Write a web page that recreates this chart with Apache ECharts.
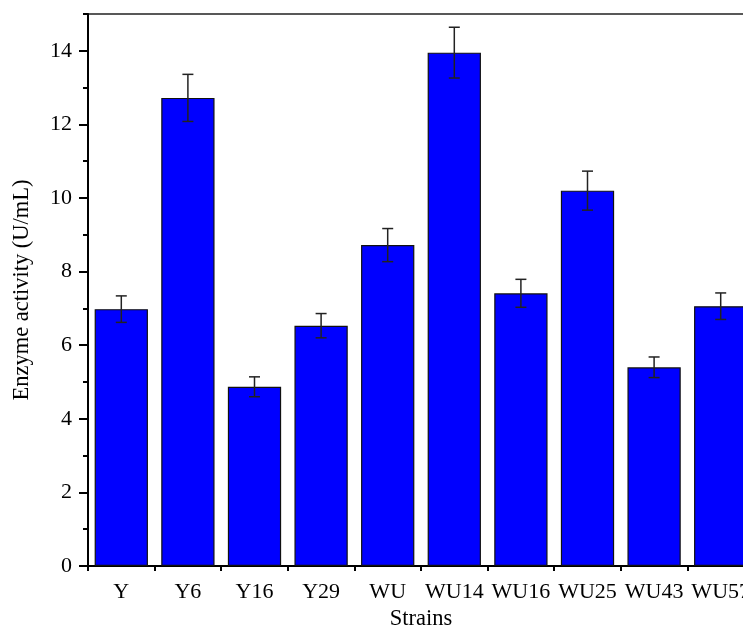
<!DOCTYPE html>
<html>
<head>
<meta charset="utf-8">
<script src="https://cdn.jsdelivr.net/npm/echarts@6/dist/echarts.min.js"></script>
<style>html,body{margin:0;padding:0;background:#fff}#c{width:743px;height:627px}</style>
</head>
<body>
<div id="c"></div>
<script>
var categories = ['Y','Y6','Y16','Y29','WU','WU14','WU16','WU25','WU43','WU57'];
var activity = [6.98, 12.72, 4.87, 6.53, 8.72, 13.95, 7.41, 10.2, 5.40, 7.06];
var errors = [0.36, 0.64, 0.27, 0.33, 0.45, 0.69, 0.38, 0.53, 0.28, 0.36];
var yTicks = [0, 2, 4, 6, 8, 10, 12, 14];

var FONT = 'Liberation Serif';
var chart = echarts.init(document.getElementById('c'), null, {renderer: 'canvas'});

var errData = categories.map(function (c, i) { return [i, activity[i] - errors[i], activity[i] + errors[i]]; });

chart.setOption({
  animation: false,
  backgroundColor: '#fff',
  grid: {left: 88, right: -11, top: 14, bottom: 61, containLabel: false, outerBoundsMode: 'none',
         show: true, borderColor: '#222', borderWidth: 1.5, backgroundColor: 'transparent'},
  xAxis: [{
    type: 'category', data: categories, position: 'bottom',
    axisLine: {lineStyle: {color: '#000', width: 2}},
    axisTick: {alignWithLabel: true, length: 9, lineStyle: {color: '#000', width: 2}},
    axisLabel: {interval: 0, fontFamily: FONT, fontSize: 22, color: '#000', margin: 15, hideOverlap: false},
    name: 'Strains', nameLocation: 'middle', nameGap: 53,
    nameTextStyle: {fontFamily: FONT, fontSize: 22.5, color: '#000', verticalAlign: 'middle'}
  }, {
    type: 'category', data: categories, position: 'bottom',
    axisLine: {show: false},
    axisTick: {show: true, interval: 0, length: 5, lineStyle: {color: '#000', width: 2}},
    axisLabel: {show: false}
  }],
  yAxis: [{
    type: 'value', min: 0, max: 15, interval: 2, position: 'left',
    axisLine: {show: true, lineStyle: {color: '#000', width: 2}},
    axisTick: {show: true, length: 9, lineStyle: {color: '#000', width: 2}, customValues: yTicks},
    axisLabel: {fontFamily: FONT, fontSize: 22, color: '#000', margin: 16, customValues: yTicks},
    splitLine: {show: false},
    name: 'Enzyme activity (U/mL)', nameLocation: 'middle', nameGap: 66, nameRotate: 90,
    nameTextStyle: {fontFamily: FONT, fontSize: 22.5, color: '#000', verticalAlign: 'middle'}
  }, {
    type: 'value', min: 0, max: 15, interval: 1, position: 'left',
    axisLine: {show: false},
    axisTick: {show: true, length: 5, lineStyle: {color: '#000', width: 2}},
    axisLabel: {show: false},
    splitLine: {show: false}
  }],
  series: [{
    type: 'bar', data: activity, barWidth: '80%', xAxisIndex: 0, yAxisIndex: 0,
    itemStyle: {color: '#0000ff', borderColor: '#111', borderWidth: 1.2}
  }, {
    type: 'custom', xAxisIndex: 0, yAxisIndex: 0, data: errData, z: 10,
    renderItem: function (params, api) {
      var x = api.value(0);
      var lo = api.coord([x, api.value(1)]);
      var hi = api.coord([x, api.value(2)]);
      var hw = 5.5;
      var st = {stroke: '#222', lineWidth: 1.5};
      return {type: 'group', children: [
        {type: 'line', shape: {x1: hi[0], y1: hi[1], x2: lo[0], y2: lo[1]}, style: st},
        {type: 'line', shape: {x1: hi[0] - hw, y1: hi[1], x2: hi[0] + hw, y2: hi[1]}, style: st},
        {type: 'line', shape: {x1: lo[0] - hw, y1: lo[1], x2: lo[0] + hw, y2: lo[1]}, style: st}
      ]};
    }
  }]
});
</script>
</body>
</html>
